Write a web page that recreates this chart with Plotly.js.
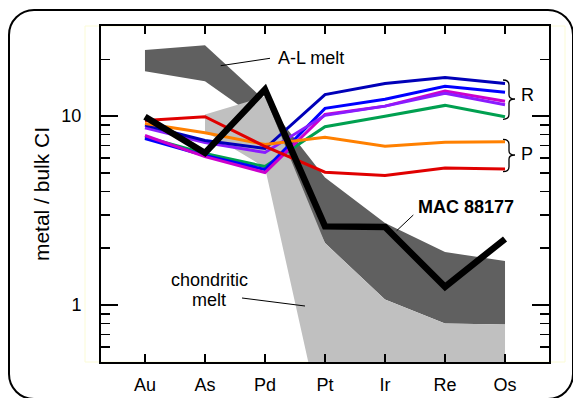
<!DOCTYPE html>
<html>
<head>
<meta charset="utf-8">
<script src="https://cdn.plot.ly/plotly-3.0.1.min.js"></script>
<style>
  html, body { margin: 0; padding: 0; background: #fff; }
  #wrap { position: relative; width: 573px; height: 398px; overflow: hidden; }
  #frame { position: absolute; left: 8px; top: 9px; width: 566px; height: 391px;
           box-sizing: border-box; border: 2px solid #000; border-radius: 26px; }
  #chart { position: absolute; left: 0; top: 0; width: 573px; height: 398px; }
</style>
</head>
<body>
<div id="wrap"><div id="frame"></div><div id="chart"></div></div>
<script>
// ---- data ----
var categories = ['Au', 'As', 'Pd', 'Pt', 'Ir', 'Re', 'Os'];
var navy    = [8.96, 7.43, 6.74, 13.0, 14.9, 16.0, 14.9];
var blue    = [7.62, 6.19, 5.22, 11.0, 12.3, 14.4, 13.4];
var purple  = [8.68, 7.25, 6.42, 10.1, 11.3, 13.2, 11.5];
var magenta = [7.90, 6.11, 5.03, 10.2, 11.3, 13.6, 12.0];
var green   = [7.76, 6.34, 5.41, 8.79, 10.0, 11.4, 9.93];
var orange  = [9.15, 8.17, 7.08, 7.74, 6.93, 7.28, 7.32];
var red     = [9.49, 9.93, 6.91, 5.05, 4.85, 5.32, 5.26];
var mac88177 = [9.93, 6.39, 13.85, 2.61, 2.59, 1.25, 2.24];

// A-L melt band (all categories)
var alTop    = [22.4, 23.7, 12.1, 4.73, 2.72, 1.91, 1.71];
var alBottom = [17.3, 15.3, 9.15, 2.13, 1.07, 0.80, 0.79];
// chondritic melt band
var chondCats   = ['As', 'Pd', 'Pt', 'Ir', 'Re', 'Os'];
var chondTop    = [10.2, 12.7, 2.13, 1.07, 0.80, 0.79];
var chondBottom = [8.3, 5.35, 0.2, 0.2, 0.2, 0.2];

var yTickVals = [1, 10];
var yTickText = ['1', '10'];
var yMinorVals = [0.6, 0.7, 0.8, 0.9, 2, 3, 4, 5, 6, 7, 8, 9, 20];

// ---- layout geometry ----
var W = 573, H = 398, ML = 101, MR = 24, MT = 26, MB = 36;
var PW = W - ML - MR, PH = H - MT - MB;
function px(x) { return (x - ML) / PW; }
function py(y) { return (H - MB - y) / PH; }

function band(cats, top, bottom, color) {
  return {
    x: cats.concat(cats.slice().reverse()),
    y: top.concat(bottom.slice().reverse()),
    type: 'scatter', mode: 'lines', fill: 'toself',
    fillcolor: color, line: { width: 0, color: color },
    hoverinfo: 'skip'
  };
}
function line(vals, color, width) {
  return { x: categories, y: vals, type: 'scatter', mode: 'lines',
           line: { color: color, width: width } };
}

var traces = [
  band(categories, alTop, alBottom, 'rgb(96,96,96)'),
  band(chondCats, chondTop, chondBottom, 'rgb(192,192,192)'),
  line(green, '#00a050', 3),
  line(blue, '#0000ff', 3),
  line(magenta, '#cc00cc', 3),
  line(purple, '#8a1cff', 3),
  line(navy, '#0000b8', 3),
  line(orange, '#ff8000', 3),
  line(red, '#e00000', 3),
  line(mac88177, '#000000', 6.5)
];

function brace(x0, yt, ym, yb) {
  var P = function (x, y) { return px(x) + ',' + py(y); };
  return 'M' + P(x0, yt) + ' Q' + P(x0 + 6, yt) + ' ' + P(x0 + 6, yt + 5) +
         ' L' + P(x0 + 6, ym - 4) + ' Q' + P(x0 + 6, ym) + ' ' + P(x0 + 12, ym) +
         ' Q' + P(x0 + 6, ym) + ' ' + P(x0 + 6, ym + 4) +
         ' L' + P(x0 + 6, yb - 5) + ' Q' + P(x0 + 6, yb) + ' ' + P(x0, yb);
}
function seg(x0, y0, x1, y1) {
  return { type: 'line', xref: 'paper', yref: 'paper', x0: px(x0), y0: py(y0),
           x1: px(x1), y1: py(y1), line: { color: '#000', width: 1 } };
}

var font = 'Liberation Sans, Arial, Helvetica, sans-serif';
var layout = {
  width: W, height: H,
  margin: { l: ML, r: MR, t: MT, b: MB, pad: 0 },
  paper_bgcolor: 'rgba(0,0,0,0)', plot_bgcolor: '#fff',
  showlegend: false, hovermode: false,
  font: { family: font, size: 18, color: '#000' },
  xaxis: {
    type: 'category', categoryorder: 'array', categoryarray: categories,
    range: [-0.733, 6.733], ticks: 'inside', ticklen: 8, tickwidth: 1.5,
    tickcolor: '#000', showline: true, linewidth: 2, linecolor: '#000',
    mirror: 'ticks', showgrid: false, zeroline: false,
    tickfont: { size: 18 }, ticklabelstandoff: 5
  },
  yaxis: {
    type: 'log', range: [Math.log10(0.5), Math.log10(30)],
    tickmode: 'array', tickvals: yTickVals, ticktext: yTickText,
    ticks: 'inside', ticklen: 17, tickwidth: 1.5, tickcolor: '#000',
    showline: true, linewidth: 2, linecolor: '#000', mirror: 'ticks',
    showgrid: false, zeroline: false, tickfont: { size: 18 },
    ticklabelstandoff: 14,
    minor: { tickmode: 'array', tickvals: yMinorVals, ticks: 'inside', ticklen: 9,
             tickwidth: 1.5, tickcolor: '#000', showgrid: false },
    title: { text: 'metal / bulk CI', font: { size: 21 }, standoff: 6 }
  },
  shapes: [
    { type: 'rect', xref: 'paper', yref: 'paper', x0: px(85), x1: px(565),
      y0: py(362), y1: py(26), line: { color: '#fbfbd6', width: 1 }, layer: 'below' },
    seg(220.7, 65.7, 270, 58.3),
    seg(396.7, 230.7, 413.3, 215),
    seg(242, 298, 305, 306),
    { type: 'path', xref: 'paper', yref: 'paper', path: brace(503, 80, 99, 119.3),
      line: { color: '#000', width: 1.3 } },
    { type: 'path', xref: 'paper', yref: 'paper', path: brace(503, 139.3, 155, 171.7),
      line: { color: '#000', width: 1.3 } }
  ],
  annotations: [
    { text: 'A-L melt', xref: 'paper', yref: 'paper', x: px(276), y: py(58),
      xanchor: 'left', yanchor: 'middle', showarrow: false },
    { text: '<b>MAC 88177</b>', xref: 'paper', yref: 'paper', x: px(416), y: py(207),
      xanchor: 'left', yanchor: 'middle', showarrow: false },
    { text: 'chondritic', xref: 'paper', yref: 'paper', x: px(209), y: py(280),
      xanchor: 'center', yanchor: 'middle', showarrow: false },
    { text: 'melt', xref: 'paper', yref: 'paper', x: px(209), y: py(300),
      xanchor: 'center', yanchor: 'middle', showarrow: false },
    { text: 'R', xref: 'paper', yref: 'paper', x: px(519), y: py(95),
      xanchor: 'left', yanchor: 'middle', showarrow: false },
    { text: 'P', xref: 'paper', yref: 'paper', x: px(519), y: py(154),
      xanchor: 'left', yanchor: 'middle', showarrow: false }
  ]
};

Plotly.newPlot('chart', traces, layout, { displayModeBar: false, staticPlot: true });
</script>
</body>
</html>
